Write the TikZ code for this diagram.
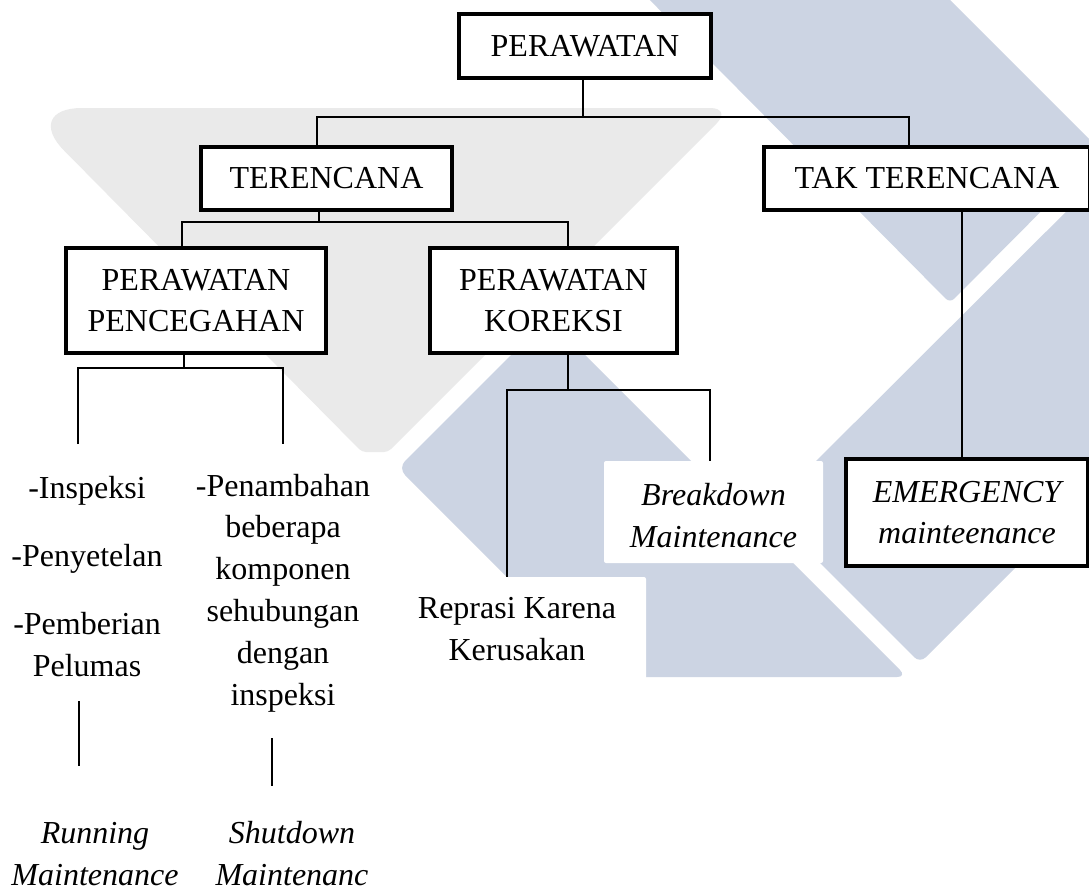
\documentclass[tikz,border=0pt]{standalone}
\usepackage{fontspec}
\setmainfont{Liberation Serif}
\newcommand\myfont{\fontsize{32}{41.8}\selectfont}
\definecolor{wmgray}{RGB}{234,234,234}
\definecolor{wmblue}{RGB}{204,212,227}
\begin{document}
\begin{tikzpicture}[x=1pt,y=-1pt,
  box/.style={draw, line width=4.5pt, fill=white, align=center, inner sep=0pt, font=\myfont},
  conn/.style={line width=2pt},
  txt/.style={align=center, inner sep=0pt, font=\myfont, anchor=base},
  itxt/.style={txt, font=\myfont\itshape},
  whitebg/.style={fill=white, inner sep=0pt, rounded corners=2pt}]
\useasboundingbox (0,0) rectangle (1089,892);
\clip (0,0) rectangle (1089,892);
\fill[white] (0,0) rectangle (1089,892);
% watermark
\fill[wmgray, rounded corners=60pt] (22,108) -- (200,108) -- (360,108) [rounded corners=22pt] -- (732,108) [rounded corners=4pt] -- (388,452) -- (362,452) [rounded corners=60pt] -- cycle;
\fill[wmblue, rounded corners=6pt] (630,-20) -- (930,-20) -- (1101,151) -- (950,303) -- cycle;
\fill[wmblue, rounded corners=10pt] (548,318) -- (907,677) -- (607,677) -- (398,468) -- cycle;
\fill[wmblue, rounded corners=8pt] (767,510) -- (1150,128) -- (1150,433) -- (920,663) -- cycle;
% white label backgrounds
\node[whitebg, minimum width=226pt, minimum height=113pt] (rpbg) at (533,633.5) {};
\node[whitebg, minimum width=219pt, minimum height=102pt] (bdbg) at (713.5,512) {};
% boxes
\node[box, minimum width=252pt, minimum height=64pt] (p) at (585,46) {PERAWATAN};
\node[box, minimum width=251pt, minimum height=63pt] (t) at (326.5,178.5) {TERENCANA};
\node[box, minimum width=326pt, minimum height=63pt] (tt) at (927,178.5) {TAK TERENCANA};
\node[box, minimum width=260pt, minimum height=105pt] (pc) at (196,300.5) {PERAWATAN\\PENCEGAHAN};
\node[box, minimum width=247pt, minimum height=105pt] (pk) at (553.5,300.5) {PERAWATAN\\KOREKSI};
\node[box, minimum width=242pt, minimum height=107pt, font=\myfont\itshape] (em) at (967,512.5) {EMERGENCY\\mainteenance};
% plain texts (anchored at the baseline of their last line)
\node[txt] (lc) at (87,676.2) {-Inspeksi\\[26pt]-Penyetelan\\[26pt]-Pemberian\\Pelumas};
\node[txt] (rc) at (283,705) {-Penambahan\\beberapa\\komponen\\sehubungan\\dengan\\inspeksi};
\node[itxt] (rm) at (95,885) {Running\\Maintenance};
\node[itxt] (sm) at (292,885) {Shutdown\\Maintenanc};
\node[txt] (rp) at (517,660) {Reprasi Karena\\Kerusakan};
\node[itxt] (bd) at (713.5,547) {Breakdown\\Maintenance};
% connectors
\draw[conn] ([xshift=-2pt]p.south) -- ++(0,37) coordinate (jp);
\draw[conn] ([xshift=-9.5pt]t.north) |- (jp) -| ([xshift=-18pt]tt.north);
\draw[conn] ([xshift=-7.5pt]t.south) -- ++(0,10) coordinate (jt);
\draw[conn] ([xshift=-14pt]pc.north) |- (jt) -| ([xshift=14.5pt]pk.north);
\draw[conn] ([xshift=-12pt]pc.south) -- ++(0,13) coordinate (jpc);
\coordinate (l1) at (78,444);
\coordinate (l2) at (283,444);
\draw[conn] (l1) |- (jpc) -| (l2);
\draw[conn] ([xshift=14.5pt]pk.south) -- ++(0,35) coordinate (jpk);
\draw[conn] ([xshift=-26pt]rpbg.north) |- (jpk) -| ([xshift=-3.5pt]bdbg.north);
\draw[conn] ([xshift=35pt]tt.south) -- ([xshift=-5pt]em.north);
\coordinate (s1a) at (79,701);
\coordinate (s1b) at (79,766);
\coordinate (s2a) at (272,738);
\coordinate (s2b) at (272,786);
\draw[conn] (s1a) -- (s1b);
\draw[conn] (s2a) -- (s2b);
\end{tikzpicture}
\end{document}
